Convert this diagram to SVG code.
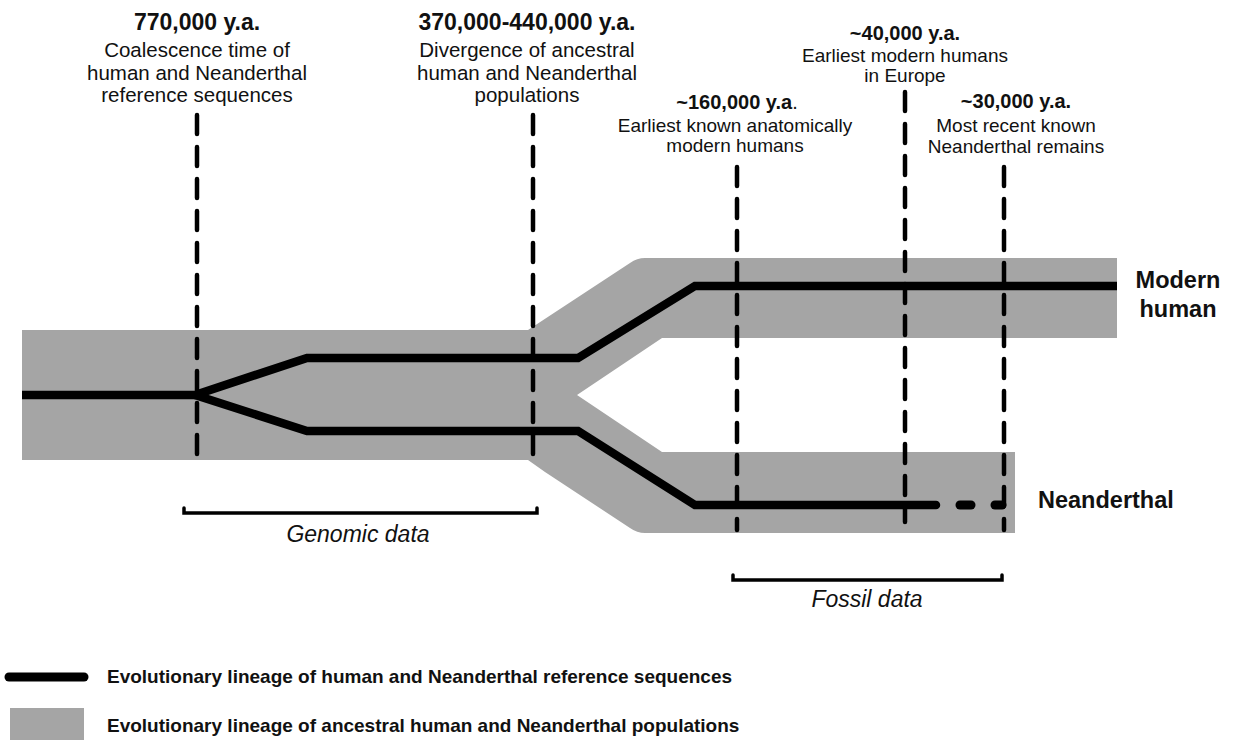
<svg xmlns="http://www.w3.org/2000/svg" width="1233" height="740" viewBox="0 0 1233 740">
<style>
text{font-family:"Liberation Sans",Arial,sans-serif;fill:#111}
.hb{font-weight:bold;font-size:23px;text-anchor:middle}
.hr{font-size:20.5px;text-anchor:middle}
.sb{font-weight:bold;font-size:20px;text-anchor:middle}
.sr{font-size:19px;text-anchor:middle}
.lab{font-weight:bold;font-size:23.5px}
.it{font-style:italic;font-size:23px;text-anchor:middle}
.leg{font-weight:bold;font-size:19px}
.lin{fill:none;stroke:#000;stroke-width:8.5;stroke-linejoin:miter}
.dash{fill:none;stroke:#000;stroke-width:4.5;stroke-dasharray:19 13;stroke-linecap:round}
.br{fill:none;stroke:#000;stroke-width:3.5;stroke-linecap:round}
</style>
<rect width="1233" height="740" fill="#fff"/>
<g id="populations">
<path d="M22,330 L528,330 L630,263 Q637,258 645,258 L1117,258 L1117,338 L662,338 L577,395 L662,452 L1015,452 L1015,533 L645,533 Q637,533 630,528 L545,472 L528,460 L22,460 Z" fill="#a5a5a5"/>
</g>
<g id="connectors">
<path class="lin" d="M22,395 L195,395 L307,358 L578,358 L695,286 L1117,286"/>
<path class="lin" d="M195,395 L307,431 L578,431 L695,505 L936,505" stroke-linecap="round"/>
<line x1="960" y1="505" x2="971" y2="505" stroke="#000" stroke-width="9" stroke-linecap="round"/>
<line x1="995" y1="505" x2="1002" y2="505" stroke="#000" stroke-width="9" stroke-linecap="round"/>
<line class="dash" x1="197" y1="115" x2="197" y2="460"/>
<line class="dash" x1="533" y1="115" x2="533" y2="460"/>
<line class="dash" x1="737" y1="167" x2="737" y2="530"/>
<line class="dash" x1="905" y1="92" x2="905" y2="522"/>
<line class="dash" x1="1004" y1="167" x2="1004" y2="530"/>
</g>
<g id="event-770000">
<text class="hb" x="197" y="30">770,000 y.a.</text>
<text class="hr" x="197" y="57">Coalescence time of</text>
<text class="hr" x="197" y="80">human and Neanderthal</text>
<text class="hr" x="197" y="102">reference sequences</text>
</g>
<g id="event-370000">
<text class="hb" x="527" y="30">370,000-440,000 y.a.</text>
<text class="hr" x="527" y="57">Divergence of ancestral</text>
<text class="hr" x="527" y="80">human and Neanderthal</text>
<text class="hr" x="527" y="102">populations</text>
</g>
<g id="event-160000">
<text class="sb" x="737" y="109">~160,000 y.a<tspan font-weight="normal">.</tspan></text>
<text class="sr" x="735" y="132">Earliest known anatomically</text>
<text class="sr" x="735" y="152">modern humans</text>
</g>
<g id="event-40000">
<text class="sb" x="905" y="40">~40,000 y.a.</text>
<text class="sr" x="905" y="62">Earliest modern humans</text>
<text class="sr" x="905" y="82">in Europe</text>
</g>
<g id="event-30000">
<text class="sb" x="1016" y="108">~30,000 y.a.</text>
<text class="sr" x="1016" y="132">Most recent known</text>
<text class="sr" x="1016" y="153">Neanderthal remains</text>
</g>
<g id="modern-human">
<text class="lab" x="1178" y="288" text-anchor="middle">Modern</text>
<text class="lab" x="1178" y="317" text-anchor="middle">human</text>
</g>
<g id="neanderthal">
<text class="lab" x="1038" y="508">Neanderthal</text>
</g>
<g id="genomic-data">
<path class="br" d="M184,508 L184,513 L537,513 L537,508"/>
<text class="it" x="358" y="542">Genomic data</text>
</g>
<g id="fossil-data">
<path class="br" d="M733,575 L733,580 L1002,580 L1002,575"/>
<text class="it" x="867" y="607">Fossil data</text>
</g>
<g id="legend">
<line x1="9" y1="677" x2="84" y2="677" stroke="#000" stroke-width="9" stroke-linecap="round"/>
<text class="leg" x="107" y="683">Evolutionary lineage of human and Neanderthal reference sequences</text>
<rect x="10" y="708" width="74" height="32" fill="#a5a5a5"/>
<text class="leg" x="107" y="732">Evolutionary lineage of ancestral human and Neanderthal populations</text>
</g>
</svg>
